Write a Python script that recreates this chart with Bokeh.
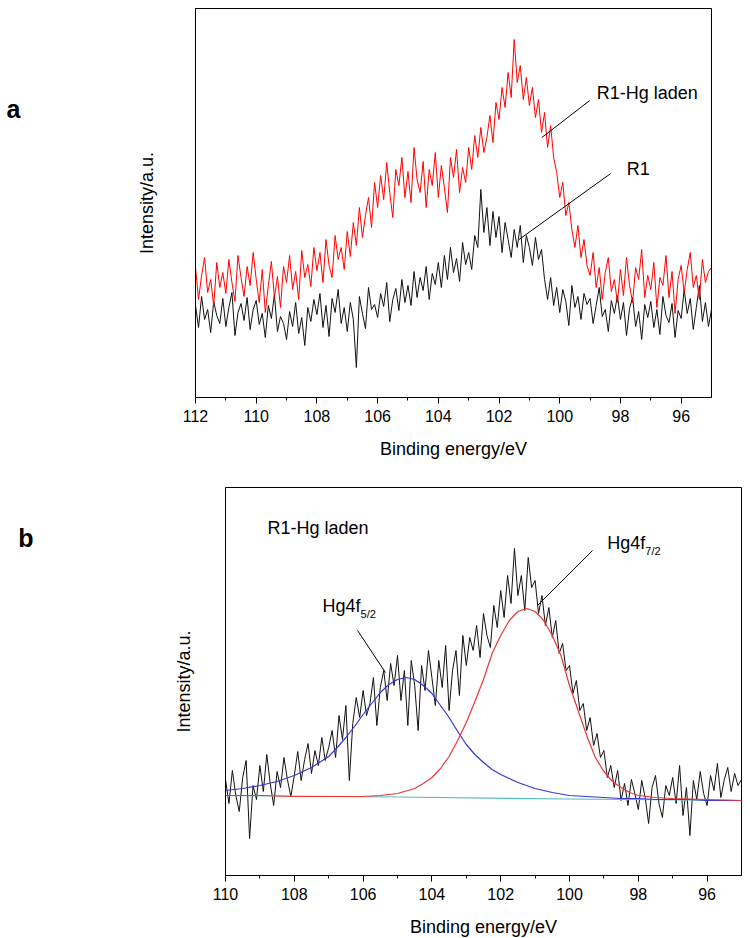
import numpy as np
from bokeh.plotting import figure
from bokeh.models import FixedTicker, Label, Range1d, LinearAxis
from bokeh.embed import file_html
from bokeh.resources import INLINE

FONT = "Liberation Sans"

# ---------------- Panel a data (binding energy in eV, intensity in a.u.) ----------------
energy_a = np.round(np.arange(112.0, 94.95, -0.1), 1)

r1_a = [
    92, 70, 101, 78, 88, 65, 96, 82, 74, 99,
    71, 90, 105, 62, 85, 94, 77, 100, 68, 88,
    97, 73, 84, 60, 92, 79, 103, 66, 81, 74,
    58, 86, 71, 95, 64, 80, 52, 90, 76, 98,
    83, 104, 70, 92, 61, 99, 85, 108, 74, 90,
    66, 95, 78, 30, 101, 84, 69, 110, 88, 93,
    80, 104, 91, 115, 76, 98, 109, 87, 118, 95,
    112, 92, 126, 100, 120, 107, 131, 98, 124, 113,
    135, 110, 142, 118, 150, 125, 139, 116, 155, 133,
    145, 128, 162, 150, 208, 165, 190, 152, 186, 160,
    181, 145, 175, 158, 140, 168, 150, 172, 135, 162,
    150, 132, 160, 138, 148, 118, 98, 120, 92, 110,
    85, 108, 96, 72, 112, 90, 101, 78, 104, 93,
    99, 74, 92, 110, 81, 88, 66, 97, 84, 102,
    78, 95, 62, 89, 100, 71, 86, 58, 93, 80,
    96, 70, 88, 63, 101, 82, 75, 94, 60, 87,
    79, 108, 84, 99, 68, 90, 112, 76, 95, 71,
    88,
]

r1_hg_a = [
    130, 98, 122, 140, 105, 118, 92, 135, 110, 125,
    104, 138, 115, 96, 142, 120, 101, 131, 112, 145,
    118, 95, 128, 85, 112, 136, 100, 121, 90, 131,
    115, 142, 108, 126, 98, 147, 120, 133, 111, 150,
    127, 145, 115, 158, 132, 120, 162, 138, 150, 128,
    166, 141, 175, 152, 190, 160, 182, 200, 170, 215,
    190, 222, 198, 235, 205, 180, 228, 212, 240, 200,
    226, 195, 250, 218, 205, 236, 190, 228, 212, 245,
    200, 232, 210, 185, 240, 220, 248, 205, 230, 215,
    250, 228, 262, 240, 270, 245, 260, 282, 255, 295,
    278, 310, 290, 325, 300, 358, 315, 332, 298, 320,
    292, 310, 280, 298, 265, 285, 250, 272, 240, 225,
    200, 215, 182, 195, 168, 150, 172, 140, 158, 132,
    122, 145, 110, 130, 98, 125, 140, 106, 118, 95,
    128, 102, 140, 112, 95, 130, 118, 148, 100, 122,
    108, 135, 90, 120, 112, 142, 100, 126, 84, 118,
    132, 105, 128, 145, 110, 122, 98, 138, 115, 126,
    130,
]

ticks_a = [112, 110, 108, 106, 104, 102, 100, 98, 96]
minor_a = [111, 109, 107, 105, 103, 101, 99, 97]

# ---------------- Panel b data ----------------
energy_b = np.round(np.arange(110.0, 94.95, -0.1), 1)

r1_hg_b = [
    96, 72, 105, 80, 64, 98, 115, 37, 90, 76,
    110, 84, 121, 92, 70, 104, 88, 118, 96, 79,
    100, 124, 95, 116, 132, 102, 125, 110, 138, 115,
    128, 145, 118, 160, 136, 170, 95, 152, 178, 158,
    185, 160, 172, 198, 150, 188, 205, 175, 212, 190,
    220, 175, 205, 150, 215, 190, 145, 210, 185, 225,
    198, 170, 215, 188, 230, 165, 205, 225, 180, 240,
    210, 238, 225, 250, 218, 262, 240, 228, 270, 248,
    285, 258, 300, 272, 327, 280, 300, 265, 318, 288,
    295, 262, 280, 250, 268, 238, 255, 222, 232, 205,
    210, 182, 195, 165, 172, 145, 158, 130, 142, 118,
    125, 98, 110, 88, 105, 75, 92, 70, 96, 82,
    66, 95, 78, 52, 88, 100, 72, 58, 90, 80,
    98, 72, 110, 60, 88, 40, 95, 76, 104, 82,
    70, 100, 85, 112, 78, 96, 108, 84, 102, 90,
    96,
]

hg4f52_e = [110, 109.5, 109, 108.5, 108, 107.5, 107, 106.75, 106.5, 106.25,
            106, 105.75, 105.5, 105.25, 105, 104.75, 104.5, 104.25, 104, 103.75,
            103.5, 103.25, 103, 102.75, 102.5, 102.25, 102, 101.5, 101, 100.5,
            100, 99.5, 99, 98.5, 98, 97.5, 97, 96.5, 96, 95.5, 95]
hg4f52_fit = [85, 87, 90, 94, 100, 108, 119, 128, 138, 149,
              161, 172, 183, 191, 196, 198, 196, 190, 182, 170,
              158, 144, 131, 121, 113, 106, 101, 93, 87, 83,
              80, 79, 78, 77, 77, 76, 76, 76, 75, 75, 75]

hg4f72_e = [110, 109, 108, 107, 106, 105.5, 105, 104.5, 104.25, 104,
            103.75, 103.5, 103.25, 103, 102.75, 102.5, 102.25, 102, 101.75, 101.5,
            101.25, 101, 100.75, 100.5, 100.25, 100, 99.75, 99.5, 99.25, 99,
            98.75, 98.5, 98.25, 98, 97.5, 97, 96, 95]
hg4f72_fit = [80, 80, 79, 79, 79, 80, 82, 87, 92, 98,
              107, 119, 135, 153, 174, 196, 222, 240, 255, 264,
              267, 264, 255, 240, 220, 190, 165, 140, 118, 104,
              94, 88, 83, 80, 78, 77, 76, 75]

baseline_e = [110, 105, 100, 95]
baseline_i = [80, 78.5, 76.5, 75]

ticks_b = [110, 108, 106, 104, 102, 100, 98, 96]
minor_b = [109, 107, 105, 103, 101, 99, 97]

assert len(r1_a) == len(energy_a) == len(r1_hg_a)
assert len(r1_hg_b) == len(energy_b)
assert len(hg4f52_e) == len(hg4f52_fit) and len(hg4f72_e) == len(hg4f72_fit)

# annotation anchors (data coordinates)
ann_a_labels = {"R1-Hg laden": (98.78, 305), "R1": (97.79, 229)}
ann_a_leaders = [((99.01, 297), (100.59, 260)), ((98.32, 224), (101.34, 158))]
ann_b_leaders = [((99.33, 325), (100.93, 270)), ((106.16, 245), (105.35, 203))]


def make_fig(x_start, x_end, ticks, minor, left, right, top, bottom, fh, ylab_standoff):
    p = figure(frame_width=516, frame_height=fh,
               x_range=Range1d(x_start, x_end), y_range=Range1d(0, fh),
               output_backend="svg", toolbar_location=None,
               min_border_left=left, min_border_right=right,
               min_border_top=top, min_border_bottom=bottom)
    p.grid.visible = False
    p.outline_line_color = "black"
    p.outline_line_width = 1
    p.outline_line_alpha = 1
    p.background_fill_color = "white"
    p.border_fill_color = "white"

    xa = p.xaxis[0]
    xa.ticker = FixedTicker(ticks=ticks, minor_ticks=minor)
    xa.axis_label = "Binding energy/eV"
    xa.axis_label_text_font = FONT
    xa.axis_label_text_font_size = "18px"
    xa.axis_label_text_font_style = "normal"
    xa.axis_label_text_color = "black"
    xa.axis_label_standoff = 14
    xa.major_label_text_font = FONT
    xa.major_label_text_font_size = "16px"
    xa.major_label_text_color = "black"
    xa.major_label_standoff = 6
    xa.major_tick_in = 0
    xa.major_tick_out = 6
    xa.minor_tick_in = 0
    xa.minor_tick_out = 3
    xa.axis_line_color = "black"
    xa.major_tick_line_color = "black"
    xa.minor_tick_line_color = "black"

    ya = p.yaxis[0]
    ya.ticker = FixedTicker(ticks=[], minor_ticks=[])
    ya.axis_label = "Intensity/a.u."
    ya.axis_label_text_font = FONT
    ya.axis_label_text_font_size = "18px"
    ya.axis_label_text_font_style = "normal"
    ya.axis_label_text_color = "black"
    ya.axis_label_standoff = ylab_standoff
    ya.major_tick_out = 0
    ya.minor_tick_out = 0
    ya.major_label_standoff = 0
    ya.axis_line_color = "black"
    return p


def add_panel_letter(p, y, letter, standoff):
    ax = LinearAxis(ticker=FixedTicker(ticks=[y], minor_ticks=[]),
                    major_label_overrides={y: letter},
                    axis_line_color=None, major_tick_line_color=None,
                    minor_tick_line_color=None, major_tick_out=0, minor_tick_out=0,
                    major_label_standoff=standoff,
                    major_label_text_font=FONT, major_label_text_font_size="25px",
                    major_label_text_font_style="bold", major_label_text_color="black")
    p.add_layout(ax, "left")


def add_label(p, x, y, text, size="18px", x_off=0, y_off=0):
    p.add_layout(Label(x=x, y=y, text=text, text_font=FONT, text_font_size=size,
                       text_align="left", text_baseline="middle",
                       text_color="black", x_offset=x_off, y_offset=y_off))


# ---------------- Panel a ----------------
p1 = make_fig(112, 95, ticks_a, minor_a, left=195, right=34, top=8, bottom=73, fh=389,
              ylab_standoff=39)
p1.line(energy_a, r1_a, line_color="#111111", line_width=1)
p1.line(energy_a, r1_hg_a, line_color="#ff0000", line_width=1)
for (x0, y0), (x1, y1) in ann_a_leaders:
    p1.segment(x0=[x0], y0=[y0], x1=[x1], y1=[y1], line_color="black", line_width=1)
for t, (x, y) in ann_a_labels.items():
    add_label(p1, x, y, t)
add_panel_letter(p1, 289, "a", 113)

# ---------------- Panel b ----------------
p2 = make_fig(110, 95, ticks_b, minor_b, left=225, right=4, top=17, bottom=60, fh=388,
              ylab_standoff=32)
p2.line(energy_b, r1_hg_b, line_color="#111111", line_width=1)
p2.line(baseline_e, baseline_i, line_color="#5bbcbc", line_width=1.2)
p2.line(hg4f52_e, hg4f52_fit, line_color="#3535e0", line_width=1.2)
p2.line(hg4f72_e, hg4f72_fit, line_color="#ee3535", line_width=1.2)
for (x0, y0), (x1, y1) in ann_b_leaders:
    p2.segment(x0=[x0], y0=[y0], x1=[x1], y1=[y1], line_color="black", line_width=1)
add_label(p2, 108.78, 348, "R1-Hg laden")
add_label(p2, 98.9, 333, "Hg4f")
add_label(p2, 98.9, 333, "7/2", size="11px", x_off=38, y_off=-8)
add_label(p2, 107.18, 270, "Hg4f")
add_label(p2, 107.18, 270, "5/2", size="11px", x_off=38, y_off=-8)
add_panel_letter(p2, 338, "b", 137)

open("out.html", "w").write(file_html([p1, p2], INLINE))
